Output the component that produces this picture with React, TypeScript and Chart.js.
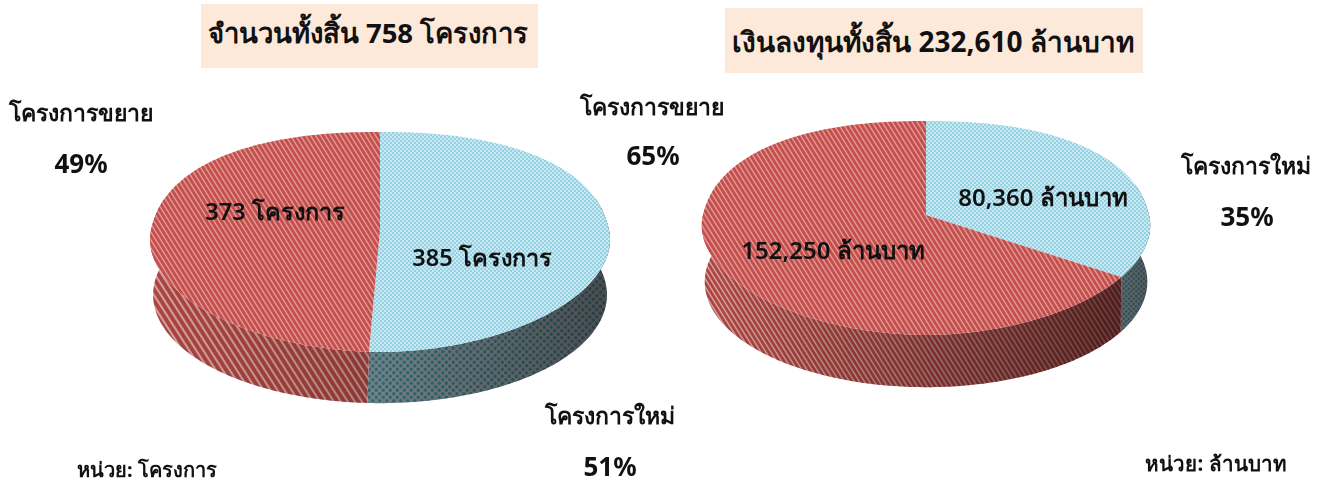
import React, { useEffect, useRef } from "react";
import { Chart, registerables } from "chart.js";

Chart.register(...registerables);

const categories = ["โครงการใหม่", "โครงการขยาย"];
const projectCounts = [385, 373];
const investment = [80360, 152250];
const FONT = '"Noto Sans", "DejaVu Sans", "Liberation Sans", sans-serif';

type Geo = { cx: number; cy: number; a: number; b: number; k: number; depth: number; s: number; wallScale: number; redShade: number[]; blueShade: number[]; x0: number; x1: number; bx0: number; bx1: number };

function tile(w: number, h: number, paint: (x: number, y: number) => [number, number, number]) {
  const c = document.createElement("canvas");
  c.width = w;
  c.height = h;
  const ctx = c.getContext("2d")!;
  const img = ctx.createImageData(w, h);
  for (let y = 0; y < h; y++) {
    for (let x = 0; x < w; x++) {
      const [r, g, b] = paint(x, y);
      const i = (y * w + x) * 4;
      img.data[i] = r;
      img.data[i + 1] = g;
      img.data[i + 2] = b;
      img.data[i + 3] = 255;
    }
  }
  ctx.putImageData(img, 0, 0);
  return c;
}

function stripes(w: number, h: number, base: number[], light: number[], duty: number) {
  return tile(w, h, (x, y) => {
    const sub = 4;
    let on = 0;
    for (let i = 0; i < sub; i++) {
      for (let j = 0; j < sub; j++) {
        const p = ((x + (i + 0.5) / sub) / w - (y + (j + 0.5) / sub) / h + 2) % 1;
        if (p < duty) on++;
      }
    }
    const t = on / (sub * sub);
    return [0, 1, 2].map((n) => base[n] + (light[n] - base[n]) * t) as [number, number, number];
  });
}

function dots(p: number, base: number[], dot: number[], rad: number) {
  return tile(p, p, (x, y) => {
    const sub = 4;
    let on = 0;
    for (let i = 0; i < sub; i++) {
      for (let j = 0; j < sub; j++) {
        const sx = x + (i + 0.5) / sub;
        const sy = y + (j + 0.5) / sub;
        const c = [
          [p / 4, p / 4],
          [(3 * p) / 4, (3 * p) / 4],
        ];
        if (c.some(([a, b]) => Math.hypot(sx - a, sy - b) < rad)) on++;
      }
    }
    const t = on / (sub * sub);
    return [0, 1, 2].map((n) => base[n] + (dot[n] - base[n]) * t) as [number, number, number];
  });
}

const bend = (n: number, p: number) => Math.sign(n) * Math.pow(Math.abs(n), p);

function rimPoint(g: Geo, t: number, wall: boolean) {
  const sinT = Math.sin(t);
  const p = wall ? 1 : sinT < 0 ? 0.88 : 1.05;
  const u = bend(Math.cos(t), p);
  const v = bend(sinT, p);
  const w = 1 - g.k * v;
  const s = wall ? g.s : 1;
  return [g.cx + (g.a * s * u) / w, g.cy + (wall ? g.depth : 0) + (g.b * s * v) / w];
}

function wallPath(g: Geo, ctx: CanvasRenderingContext2D, from: number, to: number) {
  const steps = Math.max(8, Math.ceil(Math.abs(to - from) * 60));
  for (let i = 0; i < steps; i++) {
    const t0 = from + ((to - from) * i) / steps;
    const t1 = from + ((to - from) * (i + 1)) / steps;
    if (Math.sin(t0) < -0.25 && Math.sin(t1) < -0.25) continue;
    const a = rimPoint(g, t0, false);
    const b = rimPoint(g, t1, false);
    const c = rimPoint(g, t1, true);
    const d = rimPoint(g, t0, true);
    ctx.moveTo(a[0], a[1]);
    ctx.lineTo(b[0], b[1]);
    ctx.lineTo(c[0], c[1]);
    ctx.lineTo(d[0], d[1]);
    ctx.closePath();
  }
}

const tiltedPie = {
  id: "tiltedPie",
  beforeDatasetDraw(chart: any) {
    const g: Geo = chart.options.plugins.tiltedPie.geo;
    const ctx: CanvasRenderingContext2D = chart.ctx;
    const arcs = chart.getDatasetMeta(0).data;
    const ws = g.wallScale;
    const topPatterns = [
      ctx.createPattern(dots(4, [198, 233, 243], [140, 202, 220], 1.05), "repeat")!,
      ctx.createPattern(stripes(5, 8, [194, 78, 80], [228, 152, 142], 0.34), "repeat")!,
    ];
    const wallPatterns = [
      ctx.createPattern(dots(Math.round(7 * ws), [122, 138, 143], [52, 112, 122], 1.7 * ws), "repeat")!,
      ctx.createPattern(stripes(Math.round(7 * ws), Math.round(11 * ws), [172, 68, 68], [212, 160, 150], 0.36), "repeat")!,
    ];
    const grad = (x0: number, x1: number, a: number[]) => {
      const sh = ctx.createLinearGradient(x0, 0, x1, 0);
      sh.addColorStop(0, `rgba(20,0,0,${a[0]})`);
      sh.addColorStop(1, `rgba(20,0,0,${a[1]})`);
      return sh;
    };
    const shades = [grad(g.bx0, g.bx1, g.blueShade), grad(g.x0, g.x1, g.redShade)];

    ctx.save();
    arcs.forEach((arc: any, i: number) => {
      ctx.beginPath();
      wallPath(g, ctx, arc.startAngle, arc.endAngle);
      ctx.fillStyle = wallPatterns[i];
      ctx.fill();
      ctx.fillStyle = shades[i];
      ctx.fill();
    });
    arcs.forEach((arc: any, i: number) => {
      ctx.beginPath();
      ctx.moveTo(g.cx, g.cy);
      const steps = Math.ceil(Math.abs(arc.endAngle - arc.startAngle) * 60);
      for (let n = 0; n <= steps; n++) {
        const p = rimPoint(g, arc.startAngle + ((arc.endAngle - arc.startAngle) * n) / steps, false);
        ctx.lineTo(p[0], p[1]);
      }
      ctx.closePath();
      ctx.fillStyle = topPatterns[i];
      ctx.fill();
    });
    ctx.restore();
    return false;
  },
};

function Pie({ values, left, width, geo }: { values: number[]; left: number; width: number; geo: Geo }) {
  const ref = useRef<HTMLCanvasElement>(null);
  useEffect(() => {
    const chart = new Chart(ref.current!, {
      type: "pie",
      data: { labels: categories, datasets: [{ data: values, borderWidth: 0, backgroundColor: ["#b7dee8", "#c0504d"] }] },
      options: {
        animation: false,
        responsive: false,
        events: [],
        plugins: { legend: { display: false }, tooltip: { enabled: false }, tiltedPie: { geo } } as any,
      },
      plugins: [tiltedPie as any],
    });
    return () => chart.destroy();
  }, []);
  return <canvas ref={ref} width={width} height={484} style={{ position: "absolute", left, top: 0, width, height: 484 }} />;
}

function Txt({ x, y, size, weight = 700, children }: { x: number; y: number; size: number; weight?: number; children: React.ReactNode }) {
  return (
    <div
      style={{
        position: "absolute",
        left: x,
        top: y,
        transform: "translate(-50%,-50%)",
        whiteSpace: "nowrap",
        fontFamily: FONT,
        fontWeight: weight,
        fontSize: size,
        lineHeight: 1,
        color: "#111",
      }}
    >
      {children}
    </div>
  );
}

const num = (n: number) => n.toLocaleString("en-US");

export default function App() {
  const pct = (vals: number[], i: number) => Math.round((vals[i] / vals.reduce((a, b) => a + b, 0)) * 100) + "%";
  const total1 = projectCounts[0] + projectCounts[1];
  const total2 = investment[0] + investment[1];
  return (
    <div style={{ position: "absolute", left: 0, top: 0, width: 1327, height: 484, background: "#fff", overflow: "hidden" }}>
      <Pie
        values={projectCounts}
        left={0}
        width={660}
        geo={{ cx: 380, cy: 230, a: 229, b: 108.7, k: 0.109, depth: 53, s: 0.985, wallScale: 1, redShade: [0, 0.2], blueShade: [0.05, 0.45], x0: 150, x1: 366, bx0: 366, bx1: 610 }}
      />
      <Pie
        values={investment}
        left={660}
        width={667}
        geo={{ cx: 266, cy: 215, a: 223, b: 105.4, k: 0.1215, depth: 54, s: 0.985, wallScale: 0.72, redShade: [0, 0.6], blueShade: [0.25, 0.35], x0: 60, x1: 470, bx0: 460, bx1: 490 }}
      />
      <div style={{ position: "absolute", left: 201, top: 4, width: 337, height: 64, background: "#fde9d9" }} />
      <div style={{ position: "absolute", left: 725, top: 8, width: 418, height: 65, background: "#fde9d9" }} />
      <Txt x={368} y={33} size={27.5}>{`จำนวนทั้งสิ้น ${total1} โครงการ`}</Txt>
      <Txt x={933} y={41} size={28}>{`เงินลงทุนทั้งสิ้น ${num(total2)} ล้านบาท`}</Txt>
      <Txt x={81} y={112} size={23}>{categories[1]}</Txt>
      <Txt x={81} y={163} size={26}>{pct(projectCounts, 1)}</Txt>
      <Txt x={610} y={415} size={23}>{categories[0]}</Txt>
      <Txt x={610} y={466} size={26}>{pct(projectCounts, 0)}</Txt>
      <Txt x={652} y={106} size={23}>{categories[1]}</Txt>
      <Txt x={653} y={155} size={26}>{pct(investment, 1)}</Txt>
      <Txt x={1246} y={165} size={23}>{categories[0]}</Txt>
      <Txt x={1247} y={216} size={26}>{pct(investment, 0)}</Txt>
      <Txt x={275} y={212} size={23.5} weight={600}>{`${projectCounts[1]} โครงการ`}</Txt>
      <Txt x={482} y={258} size={23.5} weight={600}>{`${projectCounts[0]} โครงการ`}</Txt>
      <Txt x={1043} y={197} size={24} weight={600}>{`${num(investment[0])} ล้านบาท`}</Txt>
      <Txt x={833} y={250} size={24} weight={600}>{`${num(investment[1])} ล้านบาท`}</Txt>
      <Txt x={147} y={470} size={20}>หน่วย: โครงการ</Txt>
      <Txt x={1216} y={463} size={20.5}>หน่วย: ล้านบาท</Txt>
    </div>
  );
}
